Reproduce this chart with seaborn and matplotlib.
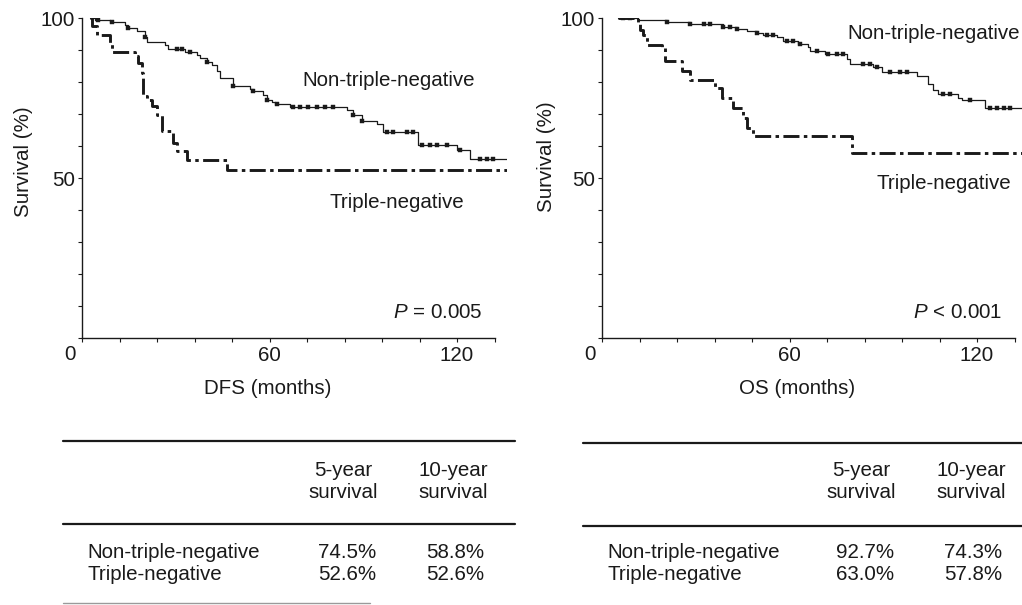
import matplotlib
matplotlib.use("Agg")
import matplotlib.pyplot as plt
from matplotlib.lines import Line2D
import seaborn as sns
import numpy as np

W, H = 1022, 605

# DFS panel: (time in months, survival % after the step)
dfs_non_t = [2.6, 4.2, 9.0, 13.8, 14.8, 17.5, 20.2, 20.7, 26.6, 27.6, 33.0, 36.7, 37.8,
             39.9, 41.5, 43.1, 44.2, 48.4, 53.8, 54.8, 58.0, 59.1, 60.7, 61.8, 66.6, 84.7,
             86.8, 89.5, 94.3, 96.4, 107.6, 119.9, 124.2, 136.0]
dfs_non_s = [100, 99.4, 98.9, 97.8, 96.8, 95.8, 94.2, 92.6, 91.6, 90.3, 89.5, 88.5, 87.5,
             86.4, 85.4, 83.3, 81.3, 78.9, 77.8, 77.1, 75.8, 74.5, 73.8, 73.1, 72.3, 71.2,
             69.8, 67.8, 66.8, 64.5, 60.2, 58.8, 55.8, 55.8]
dfs_non_cens = [5.2, 9.5, 14.8, 20.2, 30.3, 31.9, 34.5, 39.9, 48.4, 54.8, 59.1, 62.3, 67.6,
                69.7, 72.4, 75.1, 77.7, 80.4, 86.8, 89.5, 97.5, 99.6, 103.9, 106.0, 108.7,
                111.4, 113.5, 116.7, 120.9, 127.4, 129.5, 131.6]
dfs_tn_t = [2.6, 3.3, 4.7, 9.0, 9.5, 17.0, 18.0, 19.1, 19.6, 20.7, 22.3, 23.9, 25.5, 29.2,
            30.3, 33.5, 46.3, 136.0]
dfs_tn_s = [100, 97.5, 94.8, 92.2, 89.3, 88.0, 85.9, 82.7, 75.5, 74.5, 72.4, 69.8, 64.6,
            60.9, 58.3, 55.5, 52.6, 52.6]

# OS panel
os_non_t = [5.2, 11.6, 20.7, 28.2, 38.8, 43.1, 46.3, 49.5, 51.6, 55.9, 58.0, 62.8, 66.0,
            66.6, 71.4, 78.3, 79.4, 86.8, 89.5, 100.7, 104.4, 106.0, 107.6, 114.0, 115.1,
            122.6, 136.0]
os_non_s = [100, 99.5, 98.8, 98.2, 97.3, 96.5, 95.9, 95.2, 94.7, 94.0, 92.7, 91.8, 90.8,
            89.8, 88.7, 87.1, 85.5, 84.8, 83.2, 81.9, 79.5, 77.5, 76.3, 75.0, 74.3, 71.8, 71.8]
os_non_cens = [6.8, 9.0, 20.7, 28.2, 32.5, 34.6, 38.8, 41.0, 43.1, 49.5, 52.7, 54.8, 59.1,
               61.2, 63.4, 68.7, 72.4, 75.1, 77.2, 83.6, 85.8, 87.9, 92.2, 95.4, 97.5,
               109.2, 111.4, 117.8, 124.2, 126.3, 128.5, 130.6]
os_tn_t = [5.2, 11.6, 12.2, 13.2, 14.3, 19.1, 20.2, 25.5, 28.2, 36.2, 38.3, 42.0, 45.2,
           46.3, 48.4, 79.9, 136.0]
os_tn_s = [100, 98.1, 96.4, 94.8, 91.7, 90.6, 86.5, 83.3, 80.7, 78.1, 75.0, 71.9, 68.7,
           65.6, 63.0, 57.8, 57.8]

groups = ["Non-triple-negative", "Triple-negative"]
dfs_5y = ["74.5%", "52.6%"]
dfs_10y = ["58.8%", "52.6%"]
os_5y = ["92.7%", "63.0%"]
os_10y = ["74.3%", "57.8%"]

sns.set_style("ticks")
plt.rcParams["font.family"] = ["Liberation Sans", "DejaVu Sans"]
plt.rcParams["mathtext.fontset"] = "custom"
plt.rcParams["mathtext.rm"] = "Liberation Sans"
plt.rcParams["mathtext.it"] = "Liberation Sans:italic"
FS = 14.8
INK = "#1a1a1a"

fig = plt.figure(figsize=(W / 100, H / 100), dpi=100)


def add_ax(left, top, right, bottom):
    return fig.add_axes([left / W, 1 - bottom / H, (right - left) / W, (bottom - top) / H])


def step_at(times, surv, t):
    idx = np.searchsorted(times, t, side="right") - 1
    return np.asarray(surv)[idx]


def km_panel(ax, non_t, non_s, cens, tn_t, tn_s, xlabel, xlab_x, ylab_x, ylab_y, pval,
             non_pos, tn_pos):
    sns.lineplot(x=non_t, y=non_s, ax=ax, drawstyle="steps-post", color=INK,
                 lw=0.9, errorbar=None, sort=False)
    sns.lineplot(x=tn_t, y=tn_s, ax=ax, drawstyle="steps-post", color=INK,
                 lw=2.1, errorbar=None, sort=False,
                 linestyle=(0, (5.5, 1.5, 1.2, 1.5)))
    # censoring marks on the non-triple-negative curve
    cy = step_at(non_t, non_s, np.array(cens))
    sns.scatterplot(x=cens, y=cy, ax=ax, marker="s", s=8, color=INK,
                    edgecolor=INK, linewidth=0.3)
    ax.set_xlim(0, 136)
    ax.set_ylim(0, 100)
    ax.set_xticks(np.arange(0, 133, 12))
    ax.set_xticklabels(["" if v not in (60, 120) else str(v) for v in range(0, 133, 12)])
    ax.set_yticks(np.arange(0, 101, 10))
    ax.set_yticklabels(["" if v not in (50, 100) else str(v) for v in range(0, 101, 10)])
    ax.spines["bottom"].set_bounds(0, 132)
    sns.despine(ax=ax)
    for s in ("left", "bottom"):
        ax.spines[s].set_linewidth(1.0)
        ax.spines[s].set_color(INK)
    ax.tick_params(length=3, width=0.8, pad=3, labelsize=FS, colors=INK)
    ax.tick_params(axis="y", pad=2)
    ax.text(-0.028, -0.053, "0", transform=ax.transAxes, ha="center", va="center",
            fontsize=FS, color=INK)
    ax.set_xlabel(xlabel, fontsize=FS, color=INK)
    ax.set_ylabel("Survival (%)", fontsize=FS, color=INK)
    ax.xaxis.set_label_coords(xlab_x, -0.128)
    ax.yaxis.set_label_coords(ylab_x, ylab_y)
    ax.text(non_pos[0], non_pos[1], groups[0], fontsize=FS, color=INK, va="center")
    ax.text(tn_pos[0], tn_pos[1], groups[1], fontsize=FS, color=INK, va="center")
    ax.text(128.2, 8.1, pval, fontsize=FS, color=INK, ha="right", va="center")


ax1 = add_ax(82, 18, 82 + 136 * 3.125, 338)
km_panel(ax1, dfs_non_t, dfs_non_s, dfs_non_cens, dfs_tn_t, dfs_tn_s,
         "DFS (months)", 0.438, -0.116, 0.55, "$P$ = 0.005", (70.4, 80.6), (79.2, 42.5))

ax2 = add_ax(602, 18, 602 + 136 * 3.125, 338)
km_panel(ax2, os_non_t, os_non_s, os_non_cens, os_tn_t, os_tn_s,
         "OS (months)", 0.459, -0.108, 0.566, "$P$ < 0.001", (78.4, 95.3), (87.8, 48.4))


def hline(x0, x1, y, lw=1.6, color=INK):
    fig.add_artist(Line2D([x0 / W, x1 / W], [1 - y / H, 1 - y / H],
                          transform=fig.transFigure, lw=lw, color=color))


def ftext(x, y, s, ha="left"):
    fig.text(x / W, 1 - y / H, s, ha=ha, va="center", fontsize=FS, color=INK)


def table(x0, x1, top, mid, label_x, c1, c2, five, ten, bottom=None):
    hline(x0, x1, top)
    hline(x0, x1, mid)
    if bottom is not None:
        hline(x0, bottom[0], bottom[1], lw=1.0, color="#9a9a9a")
    ftext(c1, 470, "5-year", "center")
    ftext(c1, 492, "survival", "center")
    ftext(c2, 470, "10-year", "center")
    ftext(c2, 492, "survival", "center")
    for i, y in enumerate((552, 574)):
        ftext(label_x, y, groups[i])
        ftext(c1 + 4, y, five[i], "center")
        ftext(c2 + 2, y, ten[i], "center")


table(63, 515, 441, 524, 87, 343, 453, dfs_5y, dfs_10y, bottom=(370, 603))
table(583, 1022, 443, 526, 607, 861, 971, os_5y, os_10y)

fig.savefig("out.png", dpi=100)
